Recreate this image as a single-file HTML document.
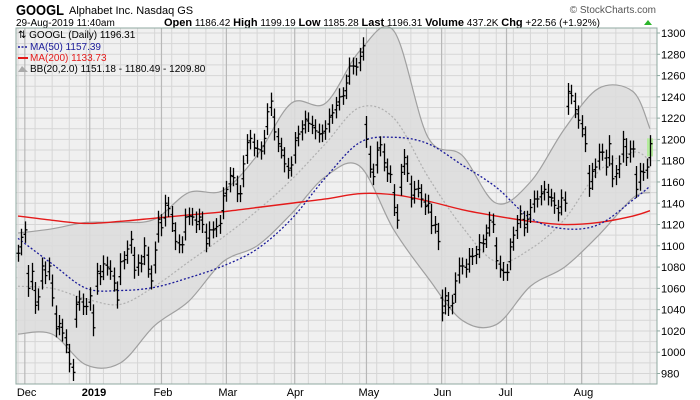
<!DOCTYPE html>
<html><head><meta charset="utf-8"><style>
body{margin:0;background:#fff;width:700px;height:400px;overflow:hidden;font-family:"Liberation Sans",sans-serif}
svg{display:block}
</style></head><body>
<svg id="chart" width="700" height="400" xmlns="http://www.w3.org/2000/svg">
<text x="16" y="15" font-size="15" font-weight="bold" fill="#000" textLength="48" lengthAdjust="spacingAndGlyphs">GOOGL</text>
<text x="69" y="14" font-size="11" fill="#000">Alphabet Inc. Nasdaq GS</text>
<text x="16" y="26" font-size="10" fill="#000">29-Aug-2019 11:40am</text>
<text x="164" y="26" font-size="10" fill="#000"><tspan font-weight="bold" font-size="11">Open</tspan> 1186.42 <tspan font-weight="bold" font-size="11">High</tspan> 1199.19 <tspan font-weight="bold" font-size="11">Low</tspan> 1185.28 <tspan font-weight="bold" font-size="11">Last</tspan> 1196.31 <tspan font-weight="bold" font-size="11">Volume</tspan> 437.2K <tspan font-weight="bold" font-size="11">Chg</tspan> +22.56 (+1.92%)</text>
<polygon points="644,25 652,25 648,20" fill="#2bb52b"/>
<text x="656" y="13" font-size="10" fill="#555" text-anchor="end">© StockCharts.com</text>
<g id="plot"></g>
</svg>
<script>
const closes = [
1093,1108,1115,1060,1076,1044,1052,1081,1072,1081,1051,1022,1027,1018,1007,989,981,1045,1050,1043,
1043,1053,1023,1076,1071,1083,1080,1076,1065,1049,1085,1087,1097,1106,1077,1084,1083,1100,1078,1067,
1096,1125,1117,1140,1135,1121,1104,1101,1101,1127,1128,1127,1120,1127,1120,1102,1115,1115,1118,1121,
1147,1153,1166,1164,1149,1149,1177,1197,1201,1192,1191,1189,1201,1226,1236,1207,1196,1190,1177,1171,
1176,1199,1205,1210,1219,1215,1213,1208,1205,1206,1210,1221,1225,1232,1240,1241,1253,1269,1269,1268,
1278,1288,
1200,1172,1165,1190,1195,1178,1168,1167,1136,1124,1169,1183,1168,1144,1153,1154,1144,1137,1140,1119,
1120,1104,1037,1053,1042,1046,1067,1081,1081,1078,1090,1090,1092,1103,1102,1112,1124,1120,1086,1078,
1075,1075,1099,1110,1121,1130,1117,1125,1136,1144,1144,1149,1153,1146,1145,1138,1131,1145,1140,
1245,1241,1228,1218,1210,1196,1154,1170,1174,1188,1188,1174,1196,1163,1168,1177,1200,1183,1191,1191,
1153,1170,1169,1174,1196];
const lineIdx = [0,10,20,30,40,50,60,70,80,90,100,110,120,130,140,150,160,170,180,185];
const ma200 = [1128,1124,1121,1123,1126,1129,1132,1136,1140,1144,1149,1148,1142,1134,1128,1123,1120,1122,1128,1133];
const ma50 = [1107,1083,1060,1058,1061,1070,1081,1097,1125,1164,1197,1202,1196,1176,1155,1126,1116,1120,1143,1156];
const bbMid = [1062,1060,1050,1045,1062,1085,1108,1133,1162,1196,1230,1220,1165,1118,1085,1097,1125,1170,1188,1180];
const bbUpper = [1112,1116,1122,1122,1125,1150,1152,1185,1234,1234,1283,1302,1202,1185,1140,1160,1210,1248,1245,1210];
const bbLower = [1017,1017,988,990,1025,1048,1085,1100,1130,1165,1175,1115,1070,1030,1026,1062,1080,1110,1145,1150];
const monthLabels = ["Dec","2019","Feb","Mar","Apr","May","Jun","Jul","Aug"];
const monthIdx = [2,21,42,61,81,102,124,143,165];
const yTicks = [980,1000,1020,1040,1060,1080,1100,1120,1140,1160,1180,1200,1220,1240,1260,1280,1300];

const L=16,R=657,T=28,B=384;
const X0=18, X1=650;
function xs(i){return X0+i*(X1-X0)/(closes.length-1);}
function ys(v){return 33+(1300-v)*(373.5-33)/320;}
const NS="http://www.w3.org/2000/svg";
const g=document.getElementById('plot');
function mk(tag,attrs,parent){const e=document.createElementNS(NS,tag);for(const k in attrs)e.setAttribute(k,attrs[k]);(parent||g).appendChild(e);return e;}

const bg=mk('rect',{x:L,y:T,width:R-L,height:B-T,fill:'#f0f0f0'});



for(let v=980;v<=1300;v+=10){
  const ln=mk('line',{x1:L,x2:R,y1:ys(v),y2:ys(v),stroke:'#d6d6d6','stroke-width':1});
  
  
}
for(let i=0;i<closes.length;i+=5){
  const ln=mk('line',{x1:xs(i),x2:xs(i),y1:T,y2:B,stroke:'#d6d6d6','stroke-width':1});
  
  
}
monthIdx.forEach((mi,k)=>{
  const ln=mk('line',{x1:xs(mi),x2:xs(mi),y1:T,y2:B,stroke:'#b8b8b8','stroke-width':1.2});
  
  
});

function pts(vals){return lineIdx.map((ix,k)=>[xs(ix),ys(vals[k])]);}
function spline(p,start){
  let d=(start?'M':'L')+p[0][0]+','+p[0][1];
  for(let k=0;k<p.length-1;k++){
    const p0=p[k-1]||p[k],p1=p[k],p2=p[k+1],p3=p[k+2]||p2;
    const c1=[p1[0]+(p2[0]-p0[0])/6,p1[1]+(p2[1]-p0[1])/6];
    const c2=[p2[0]-(p3[0]-p1[0])/6,p2[1]-(p3[1]-p1[1])/6];
    d+=' C'+c1+' '+c2+' '+p2;
  }
  return d;
}
function curvePts(vals){return spline(pts(vals),true);}
function curveRev(vals){return spline(pts(vals).reverse(),false);}

const band=mk('path',{d:curvePts(bbUpper)+' '+curveRev(bbLower)+' Z',fill:'#dcdcdc','fill-opacity':0.85,stroke:'none'});


const up=mk('path',{d:curvePts(bbUpper),fill:'none',stroke:'#a0a0a0','stroke-width':1.2});


const lo=mk('path',{d:curvePts(bbLower),fill:'none',stroke:'#a0a0a0','stroke-width':1.2});


const mid=mk('path',{d:curvePts(bbMid),fill:'none',stroke:'#b0b0b0','stroke-width':1.2,'stroke-dasharray':'2,2'});


const m200=mk('path',{d:curvePts(ma200),fill:'none',stroke:'#e41a1a','stroke-width':1.4});


const m50=mk('path',{d:curvePts(ma50),fill:'none',stroke:'#1a1a99','stroke-width':1.3,'stroke-dasharray':'2,2'});



const n=closes.length;
const hl=mk('rect',{x:xs(n-1)-3,y:ys(1201),width:6,height:ys(1184)-ys(1201),fill:'#b4ec9c'});



for(let i=0;i<n;i++){
  const c=closes[i], pc=i>0?closes[i-1]:c;
  const diff=Math.max(-14,Math.min(14,(pc-c)*0.6));
  const o=c+diff;
  const hi=Math.max(o,c)+8, lw=Math.min(o,c)-8;
  const x=Math.round(xs(i))+0.5;
  const bar=mk('path',{d:`M${x},${ys(hi)}V${ys(lw)}M${x-2},${ys(o)}H${x}M${x},${ys(c)}H${x+2}`,stroke:'#000','stroke-width':1.3,fill:'none'});
  
  
}

const frame=mk('rect',{x:L,y:T,width:R-L,height:B-T,fill:'none',stroke:'#8fa8a0','stroke-width':1});



yTicks.forEach(v=>{
  const t=mk('text',{x:R+4,y:ys(v)+4,'font-size':11,fill:'#000'});
  t.textContent=v;
  
  
  const tk=mk('line',{x1:R,x2:R+3,y1:ys(v),y2:ys(v),stroke:'#8fa8a0'});
  
  
});
monthLabels.forEach((m,k)=>{
  const t=mk('text',{x:xs(monthIdx[k])-8,y:396,'font-size':11,fill:'#000','font-weight':m==='2019'?'bold':'normal'});
  t.textContent=m;
  
  
});

const lg=mk('g',{});


const lt=[["⇅ GOOGL (Daily) 1196.31","#000",38],["MA(50) 1157.39","#1a1a99",50],["MA(200) 1133.73","#e41a1a",61],["BB(20,2.0) 1151.18 - 1180.49 - 1209.80","#000",72]];
lt.forEach((r,k)=>{
  const t=mk('text',{x:k==0?18:30,y:r[2],'font-size':10,fill:r[1]},lg);
  t.textContent=r[0];
  
  
});
const s1=mk('line',{x1:18,x2:28,y1:47,y2:47,stroke:'#1a1a99','stroke-width':1.5,'stroke-dasharray':'2,1.5'},lg);


const s2=mk('line',{x1:18,x2:28,y1:58,y2:58,stroke:'#e41a1a','stroke-width':2},lg);


const s3=mk('polygon',{points:'18,72 22,66 25,69 28,72',fill:'#aaa'},lg);


</script>
</body></html>
